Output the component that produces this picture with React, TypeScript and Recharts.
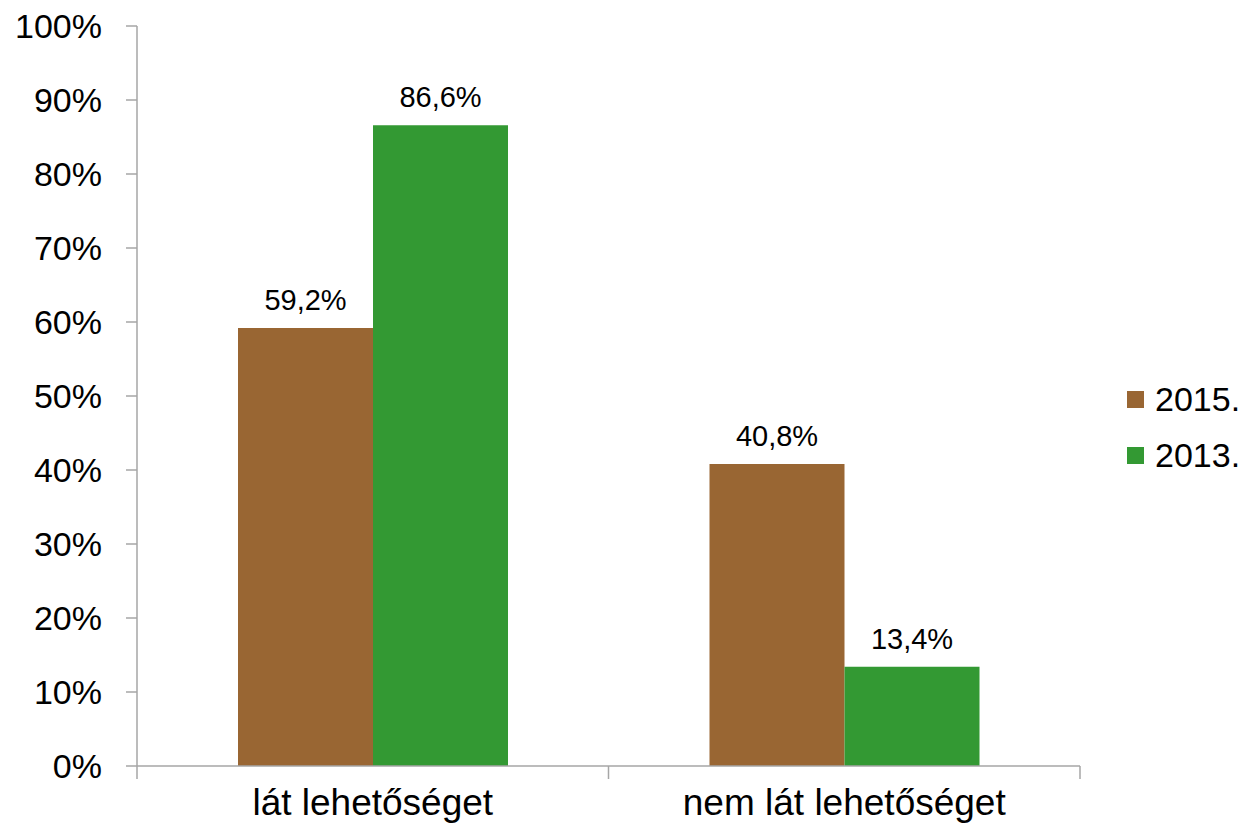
import React from 'react'
import { BarChart, Bar, XAxis, YAxis, LabelList } from 'recharts'

const categories = ['lát lehetőséget', 'nem lát lehetőséget']
const values2015 = [59.2, 40.8]
const values2013 = [86.6, 13.4]
const yTicks = [0, 10, 20, 30, 40, 50, 60, 70, 80, 90, 100]
const seriesNames = ['2015.', '2013.']
const colors = ['#996633', '#339933']

const data = categories.map((name, i) => ({
  name,
  y2015: values2015[i],
  y2013: values2013[i],
}))

const font = '"Liberation Sans", Arial, sans-serif'
const axisColor = '#a6a6a6'
const labelGap = 23

const fmt = (v: number) => v.toFixed(1).replace('.', ',') + '%'

// category label plus tick marks on the band edges (Excel style)
function CatTick(props: any) {
  const { x, y, payload, width, index } = props
  const bw = width / categories.length
  const top = y - labelGap
  return (
    <g>
      {index === 0 && <line x1={x - bw / 2} x2={x - bw / 2} y1={top} y2={top + 13} stroke={axisColor} strokeWidth={1.5} />}
      <line x1={x + bw / 2} x2={x + bw / 2} y1={top} y2={top + 13} stroke={axisColor} strokeWidth={1.5} />
      <text x={x} y={y} dy="0.71em" textAnchor="middle" fill="#000" fontSize={37} fontFamily={font}>
        {payload.value}
      </text>
    </g>
  )
}

function Legend2() {
  return (
    <div style={{ position: 'absolute', left: 1127, top: 371, fontFamily: font, fontSize: 34, color: '#000' }}>
      {seriesNames.map((s, i) => (
        <div key={s} style={{ display: 'flex', alignItems: 'center', height: 56 }}>
          <div style={{ width: 17, height: 17, background: colors[i], marginRight: 11 }} />
          <span>{s}</span>
        </div>
      ))}
    </div>
  )
}

export default function App() {
  return (
    <div style={{ position: 'absolute', left: 0, top: 0, width: 1250, height: 830, background: '#fff' }}>
      <BarChart
        width={1250}
        height={830}
        data={data}
        margin={{ top: 26, right: 170, bottom: 0, left: 0 }}
        barCategoryGap={101}
        barGap={0}
        style={{ fontFamily: font }}
      >
        <XAxis
          dataKey="name"
          height={64}
          stroke={axisColor}
          strokeWidth={1.5}
          tickLine={false}
          tickSize={0}
          tickMargin={labelGap}
          interval={0}
          tick={<CatTick />}
        />
        <YAxis
          width={137}
          domain={[0, 100]}
          ticks={yTicks}
          interval={0}
          tickFormatter={(v: number) => v + '%'}
          tickSize={11}
          tickMargin={24}
          stroke={axisColor}
          strokeWidth={1.5}
          tick={{ fill: '#000', fontSize: 34, fontFamily: font }}
        />
        <Bar dataKey="y2015" name={seriesNames[0]} fill={colors[0]} isAnimationActive={false}>
          <LabelList dataKey="y2015" position="top" offset={18} formatter={fmt} fill="#000" fontSize={29} fontFamily={font} />
        </Bar>
        <Bar dataKey="y2013" name={seriesNames[1]} fill={colors[1]} isAnimationActive={false}>
          <LabelList dataKey="y2013" position="top" offset={18} formatter={fmt} fill="#000" fontSize={29} fontFamily={font} />
        </Bar>
      </BarChart>
      <Legend2 />
    </div>
  )
}
